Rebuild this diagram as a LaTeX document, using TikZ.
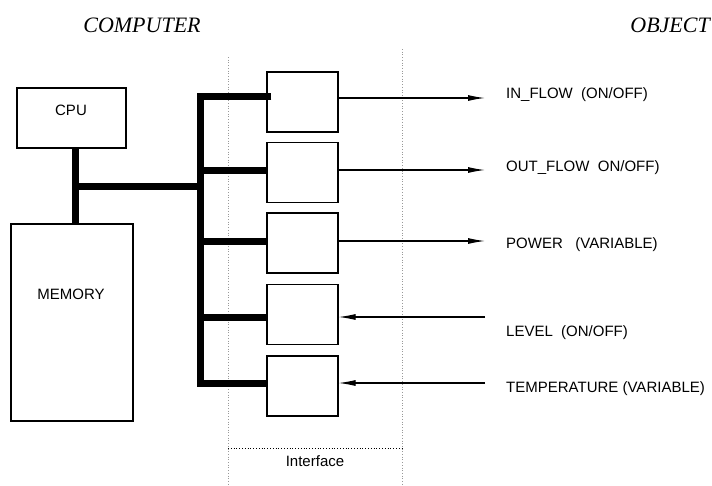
\documentclass[tikz,border=0pt]{standalone}
\usepackage{fontspec}
\setmainfont{Liberation Serif}
\setsansfont{Liberation Sans}
\usetikzlibrary{arrows.meta}

\begin{document}
\begin{tikzpicture}[x=1pt,y=-1pt]

    \tikzset{unit/.style={rectangle, draw, line width=1.1pt, inner sep=0pt}}
    \tikzset{ifc/.style={unit, minimum width=71pt, minimum height=60pt}}
    \tikzset{bus/.style={line width=7pt}}
    \tikzset{sig/.style={line width=1.1pt, -{Latex[length=17pt,width=6pt]}}}
    \tikzset{txt/.style={inner sep=0pt, font=\sffamily\fontsize{15}{17}\selectfont}}
    \tikzset{border/.style={gray!80, dotted, line width=0.7pt}}
    \tikzstyle{side}=[inner sep=0pt, font=\itshape\fontsize{22}{26}\selectfont]

    \useasboundingbox (0,0) rectangle (712,485);

    % HEADINGS
    \node(comp) at (142,25) [side] {COMPUTER};
    \node(obj) at (710,25) [side, anchor=east] {OBJECT};

    % COMPUTER SIDE
    \node(cpu) at (71.5,118) [unit, minimum width=109pt, minimum height=60pt] {};
    \node(cputxt) at (71,110) [txt] {CPU};
    \node(mem) at (72,322.5) [unit, minimum width=122pt, minimum height=197pt] {};
    \node(memtxt) at (71,294) [txt] {MEMORY};

    % INTERFACE BORDERS
    \draw[border] (228,57) -- (228,485);
    \draw[border] (402,49) -- (402,485);
    \draw[dotted, line width=0.8pt] (228,448) -- (402,448);
    \node(iface) at (315,461) [txt] {Interface};

    % INTERFACE UNITS
    \node(ifc1) at (302.5,102) [ifc] {};
    \node(ifc2) at (302.5,172.5) [ifc] {};
    \node(ifc3) at (302.5,243) [ifc] {};
    \node(ifc4) at (302.5,314.5) [ifc] {};
    \node(ifc5) at (302.5,386) [ifc] {};

    % BUS
    \coordinate (bt) at (200,96);
    \coordinate (bb) at (200,383);
    \coordinate (cj) at (75,186);
    \draw[bus] (cpu.south -| cj) -- (mem.north -| cj);
    \draw[bus] (cj) -- (bt |- cj);
    \draw[bus] ([xshift=5pt]ifc1.west |- bt) -- (bt) -- (bb) -- (ifc5.west |- bb);
    \draw[bus] (bt |- 0,170) -- (ifc2.west |- 0,170);
    \draw[bus] (bt |- 0,241) -- (ifc3.west |- 0,241);
    \draw[bus] (bt |- 0,317) -- (ifc4.west |- 0,317);

    % OBJECT SIGNALS
    \node(inflow) at (506,95) [txt, anchor=west] {IN\_FLOW\ \ (ON/OFF)};
    \node(outflow) at (506,168) [txt, anchor=west] {OUT\_FLOW\ \ ON/OFF)};
    \node(power) at (506,245) [txt, anchor=west] {POWER\ \ \ (VARIABLE)};
    \node(level) at (506,333) [txt, anchor=west] {LEVEL\ \ (ON/OFF)};
    \node(temp) at (506,389) [txt, anchor=west] {TEMPERATURE (VARIABLE)};

    \coordinate (s1) at (485,98);
    \coordinate (s2) at (485,170);
    \coordinate (s3) at (485,241);
    \coordinate (s4) at (485,317);
    \coordinate (s5) at (485,383);

    \draw[sig] (ifc1.east |- s1) -- (s1);
    \draw[sig] (ifc2.east |- s2) -- (s2);
    \draw[sig] (ifc3.east |- s3) -- (s3);
    \draw[sig] (s4) -- (ifc4.east |- s4);
    \draw[sig] (s5) -- (ifc5.east |- s5);

\end{tikzpicture}
\end{document}
